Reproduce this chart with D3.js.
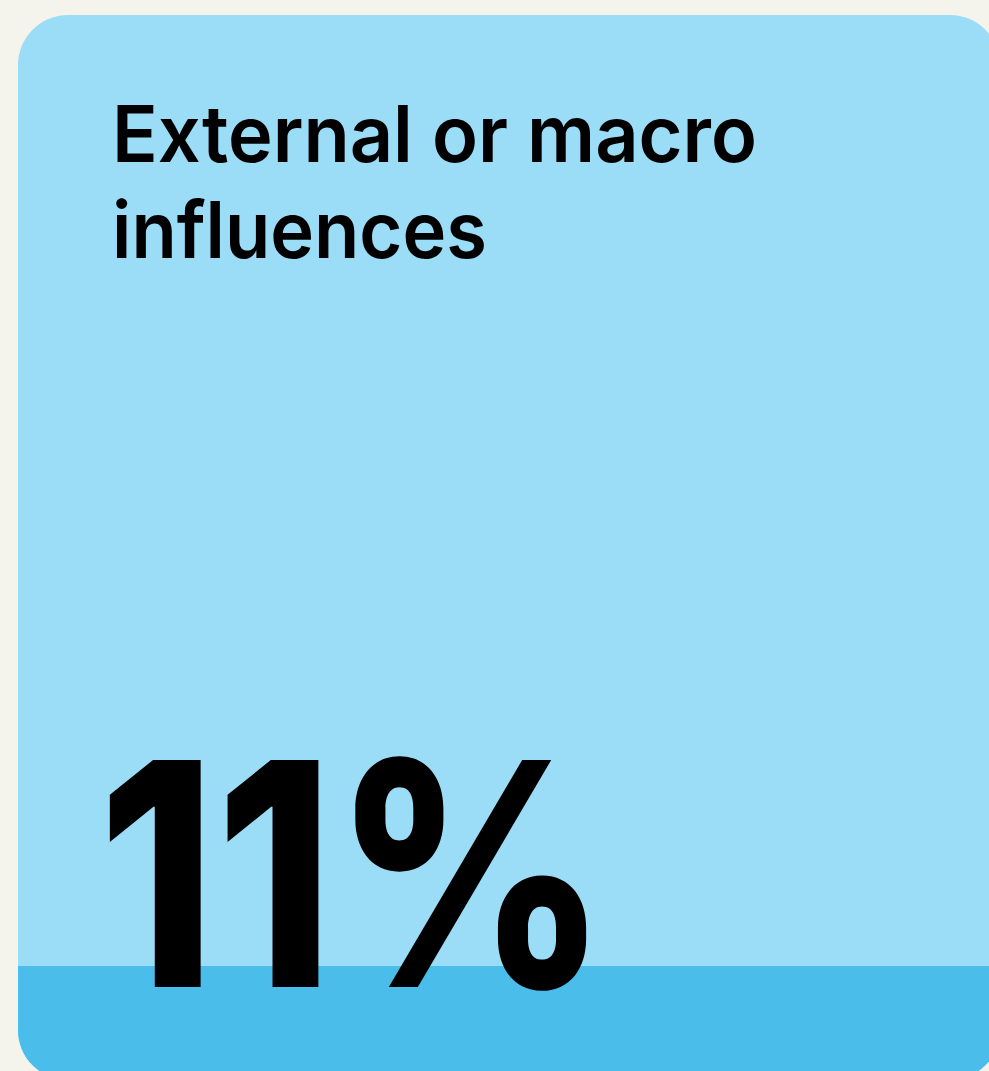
<!DOCTYPE html>
<html>
<head>
<meta charset="utf-8">
<script src="https://cdn.jsdelivr.net/npm/d3@7"></script>
<style>
html,body{margin:0;padding:0;background:#F5F4EC;}
svg{display:block;}
</style>
</head>
<body>
<svg id="chart" width="989" height="1071"></svg>
<script>
const categories = ["External or macro influences"];
const titleLines = ["External or macro", "influences"];
const values = [11];
const valueLabels = ["11%"];

const W = 989, H = 1071;
const svg = d3.select("#chart");
svg.append("rect").attr("width", W).attr("height", H).attr("fill", "#F5F4EC");

const card = {x: 18, y: 15, w: 982, h: 1065, r: 50};

const defs = svg.append("defs");
defs.append("clipPath").attr("id", "cardClip")
  .append("rect").attr("x", card.x).attr("y", card.y)
  .attr("width", card.w).attr("height", card.h)
  .attr("rx", card.r).attr("ry", card.r);

const g = svg.append("g").attr("clip-path", "url(#cardClip)");
g.append("rect").attr("x", card.x).attr("y", card.y)
  .attr("width", card.w).attr("height", card.h).attr("fill", "#9BDCF7");

const y = d3.scaleLinear().domain([0, 100]).range([card.y + card.h, card.y + 29]);

g.selectAll("rect.fill").data(values).join("rect")
  .attr("class", "fill")
  .attr("x", card.x).attr("width", card.w)
  .attr("y", d => y(d)).attr("height", d => y(0) - y(d))
  .attr("fill", "#4ABDEA");

// Title
const title = svg.append("text")
  .attr("x", 113).attr("y", 162)
  .attr("font-family", "Inter, 'Noto Sans', sans-serif")
  .attr("font-weight", 600)
  .attr("font-size", 78)
  .attr("fill", "#000");
const targetW = [645, 375];
titleLines.forEach((t, i) => {
  title.append("tspan").attr("x", 112).attr("y", 162 + i * 96).text(t);
});
title.selectAll("tspan").each(function(d, i) {
  d3.select(this).attr("textLength", targetW[i]).attr("lengthAdjust", "spacingAndGlyphs");
});

// Big value
svg.selectAll("text.val").data(valueLabels).join("text")
  .attr("class", "val")
  .attr("x", 98).attr("y", 987)
  .attr("font-family", "Inter, 'Noto Sans', sans-serif")
  .attr("font-weight", 800)
  .attr("font-size", 312)
  .attr("fill", "#000")
  .attr("textLength", 510)
  .attr("lengthAdjust", "spacingAndGlyphs")
  .text(d => d);
</script>
</body>
</html>
